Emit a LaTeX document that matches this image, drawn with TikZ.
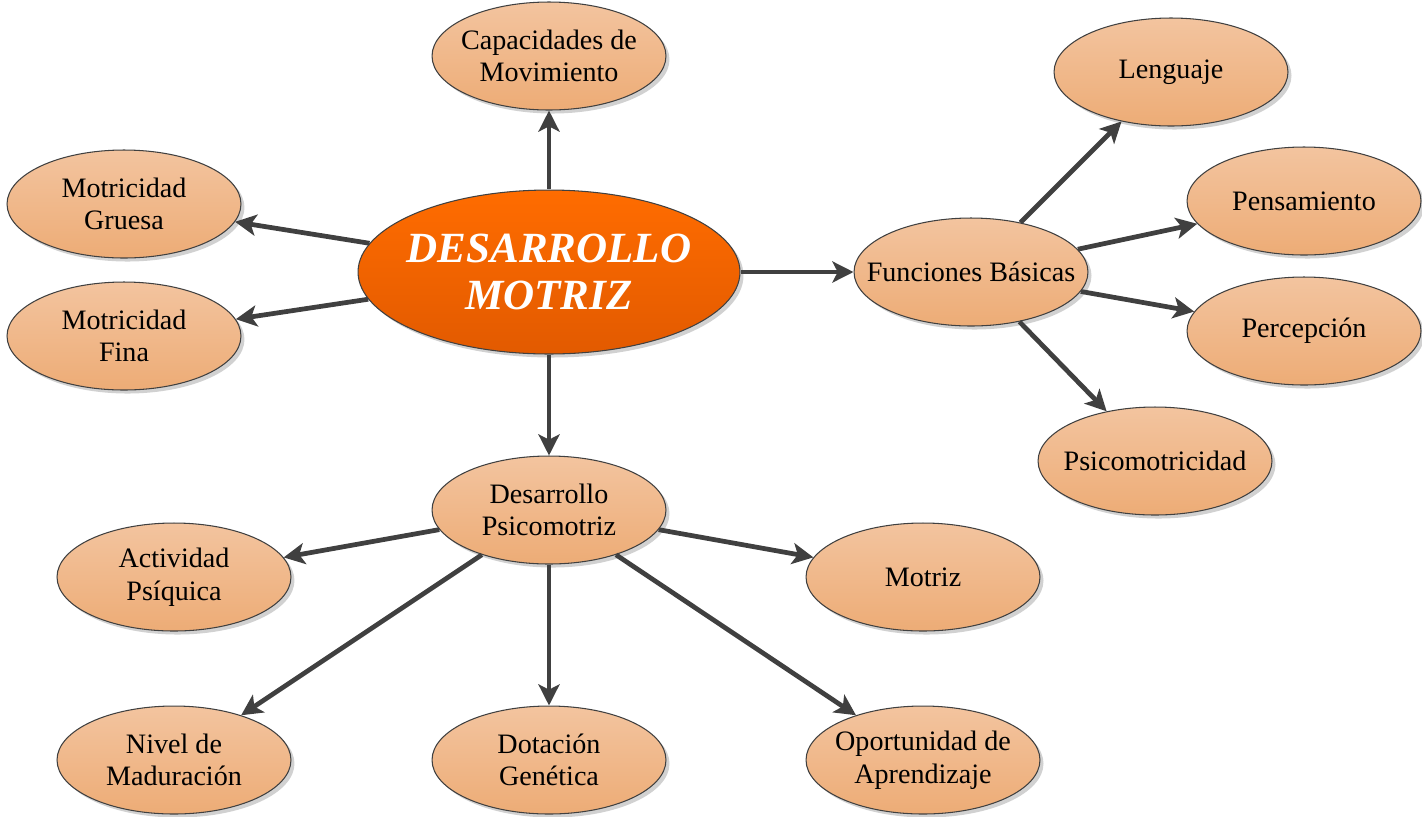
\documentclass[tikz,border=0pt]{standalone}
\usepackage{fontspec}
\setmainfont{Liberation Serif}
\usetikzlibrary{shapes.geometric,arrows.meta,shadows}
\definecolor{borde}{HTML}{404040}
\definecolor{flechagris}{HTML}{404040}
\definecolor{durazno1}{HTML}{F3C49F}
\definecolor{durazno2}{HTML}{EDAC76}
\definecolor{naranja1}{HTML}{FF6C00}
\definecolor{naranja2}{HTML}{E25A00}

\begin{document}
\begin{tikzpicture}[x=0.02cm,y=-0.02cm]
\tikzstyle{idea}=[ellipse,draw=borde,line width=0.6pt,top color=durazno1,bottom color=durazno2,
  minimum width=4.68cm,minimum height=2.16cm,inner xsep=-1cm,inner ysep=-0.3cm,align=center,
  font=\fontsize{16}{18.5}\selectfont,
  drop shadow={shadow xshift=2pt,shadow yshift=-2pt,opacity=0.18,fill=black}]
\tikzstyle{central}=[idea,top color=naranja1,bottom color=naranja2,text=white,
  minimum width=7.64cm,minimum height=3.28cm,font=\fontsize{24.5}{26.5}\selectfont\bfseries\itshape]
\tikzstyle{flecha}=[draw=flechagris,line width=2.7pt,-{Stealth[length=12pt,width=12pt,inset=3pt]}]

\useasboundingbox (0,0) rectangle (1422,816);

\node[central] (dm) at (549,272) {DESARROLLO\\MOTRIZ};

\node[idea] (cap) at (549,56) {Capacidades de\\Movimiento};
\node[idea] (gruesa) at (124,204) {Motricidad\\Gruesa};
\node[idea] (fina) at (124,336) {Motricidad\\Fina};

\node[idea] (fb) at (971,272) {Funciones Básicas};
\node[idea] (leng) at (1171,72) {Lenguaje};
\node[idea] (pens) at (1304,201) {Pensamiento};
\node[idea] (perc) at (1304,331) {Percepción};
\node[idea] (psico) at (1155,461) {Psicomotricidad};

\node[idea] (dp) at (549,510) {Desarrollo\\Psicomotriz};
\node[idea] (act) at (174,577) {Actividad\\Psíquica};
\node[idea] (motriz) at (923,577) {Motriz};
\node[idea] (nivel) at (174,760) {Nivel de\\Maduración};
\node[idea] (dot) at (549,760) {Dotación\\Genética};
\node[idea] (opor) at (923,760) {Oportunidad de\\Aprendizaje};

% desde el centro
\draw[flecha] (dm) -- (cap);
\draw[flecha] (dm) -- (gruesa);
\draw[flecha] (dm) -- (fina);
\draw[flecha] (dm) -- (fb);
\draw[flecha] (dm) -- (dp);

\draw[flecha] (fb) -- (leng);
\draw[flecha] (fb) -- (pens);
\draw[flecha] (fb) -- (perc);
\draw[flecha] (fb) -- (psico);

\draw[flecha] (dp) -- (act);
\draw[flecha] (dp) -- (motriz);
\draw[flecha] (dp) -- (nivel);
\draw[flecha] (dp) -- (dot);
\draw[flecha] (dp) -- (opor);
\end{tikzpicture}
\end{document}
